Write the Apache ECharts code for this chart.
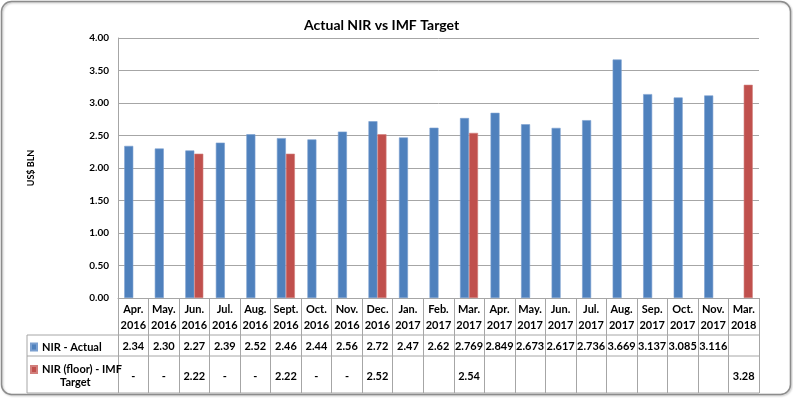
<!DOCTYPE html>
<html><head><meta charset="utf-8">
<script src="https://cdn.jsdelivr.net/npm/echarts@6/dist/echarts.min.js"></script>
<style>html,body{margin:0;padding:0;background:#fff}#c{width:793px;height:398px}</style>
</head><body><div id="c"></div>
<script>
const months = ['Apr.','May.','Jun.','Jul.','Aug.','Sept.','Oct.','Nov.','Dec.','Jan.','Feb.','Mar.','Apr.','May.','Jun.','Jul.','Aug.','Sep.','Oct.','Nov.','Mar.'];
const years = ['2016','2016','2016','2016','2016','2016','2016','2016','2016','2017','2017','2017','2017','2017','2017','2017','2017','2017','2017','2017','2018'];
const actual = [2.34,2.30,2.27,2.39,2.52,2.46,2.44,2.56,2.72,2.47,2.62,2.769,2.849,2.673,2.617,2.736,3.669,3.137,3.085,3.116,null];
const target = [null,null,2.22,null,null,2.22,null,null,2.52,null,null,2.54,null,null,null,null,null,null,null,null,3.28];
const actualText = ['2.34','2.30','2.27','2.39','2.52','2.46','2.44','2.56','2.72','2.47','2.62','2.769','2.849','2.673','2.617','2.736','3.669','3.137','3.085','3.116',''];
const targetText = ['-','-','2.22','-','-','2.22','-','-','2.52','','','2.54','','','','','','','','','3.28'];
const yTicks = ['0.00','0.50','1.00','1.50','2.00','2.50','3.00','3.50','4.00'];
const seriesNames = ['NIR - Actual','NIR (floor) - IMF Target'];

const categories = months.map((m,i)=>m+'\n'+years[i]);
const FONT = 'Lato';
const GRID_C = '#a6a6a6';
const chart = echarts.init(document.getElementById('c'));
const tableLabel = (arr, margin) => ({
  type:'category', data:categories, gridIndex:0, position:'bottom',
  axisLine:{show:false}, axisTick:{show:false}, splitLine:{show:false},
  axisLabel:{interval:0, margin:margin, fontFamily:FONT, fontWeight:'bold', fontSize:11, color:'#000', lineHeight:16,
    formatter:(v,i)=>arr[i]}
});
chart.setOption({
  animation:false,
  title:{text:'Actual NIR vs IMF Target', left:299, top:13,
    textStyle:{fontFamily:FONT, fontWeight:'bold', fontSize:14, color:'#000'}},
  grid:{left:118, right:34, top:38, bottom:100},
  legend:{orient:'vertical', left:25, top:335.5, itemWidth:6, itemHeight:7, itemGap:9.5, icon:'rect',
    textStyle:{fontFamily:FONT, fontWeight:'bold', fontSize:11, color:'#000', lineHeight:13},
    formatter:n=> n===seriesNames[1] ? 'NIR (floor) - IMF' : n,
    selectedMode:false},
  xAxis:[
    {type:'category', data:categories,
      axisLine:{show:true, lineStyle:{color:GRID_C}},
      axisTick:{show:true, length:95, interval:0, lineStyle:{color:GRID_C}},
      axisLabel:{interval:0, margin:3, fontFamily:FONT, fontWeight:'bold', fontSize:11, color:'#000', lineHeight:16.5},
      splitLine:{show:false}},
    tableLabel(actualText, 40),
    tableLabel(targetText, 70)
  ],
  yAxis:{type:'value', min:0, max:4, interval:0.5,
    name:'US$ BLN', nameLocation:'middle', nameGap:82, nameRotate:90,
    nameTextStyle:{fontFamily:FONT, fontWeight:'bold', fontSize:9, color:'#000'},
    axisLine:{show:true, lineStyle:{color:GRID_C}}, axisTick:{show:false},
    axisLabel:{fontFamily:FONT, fontWeight:'bold', fontSize:10, color:'#000', margin:9,
      formatter:(v)=>yTicks[Math.round(v/0.5)]},
    splitLine:{show:true, lineStyle:{color:GRID_C, width:1}}},
  series:[
    {name:seriesNames[0], type:'bar', data:actual, barWidth:9, barGap:'0%',
      itemStyle:{color:'#4f81bd', borderColor:'#7a9fd0', borderWidth:0.6}},
    {name:seriesNames[1], type:'bar', data:target, barWidth:9,
      itemStyle:{color:'#c0504d', borderColor:'#d27f7c', borderWidth:0.6}}
  ],
  graphic:[
    {type:'rect', shape:{x:1.5,y:1.5,width:789,height:393,r:10}, style:{fill:'none', stroke:'#8c8c8c', lineWidth:1.5, shadowBlur:2, shadowColor:'rgba(0,0,0,0.25)', shadowOffsetX:1, shadowOffsetY:1}, z:-1},
    {type:'line', shape:{x1:27,y1:335,x2:759,y2:335}, style:{stroke:GRID_C, lineWidth:1}},
    {type:'line', shape:{x1:27,y1:356,x2:759,y2:356}, style:{stroke:GRID_C, lineWidth:1}},
    {type:'line', shape:{x1:27,y1:393,x2:759,y2:393}, style:{stroke:GRID_C, lineWidth:1}},
    {type:'line', shape:{x1:27,y1:335,x2:27,y2:393}, style:{stroke:GRID_C, lineWidth:1}},
    {type:'text', left:60, top:377, style:{text:'Target', font:'bold 11px Lato', fill:'#000'}}
  ]
});
</script></body></html>
